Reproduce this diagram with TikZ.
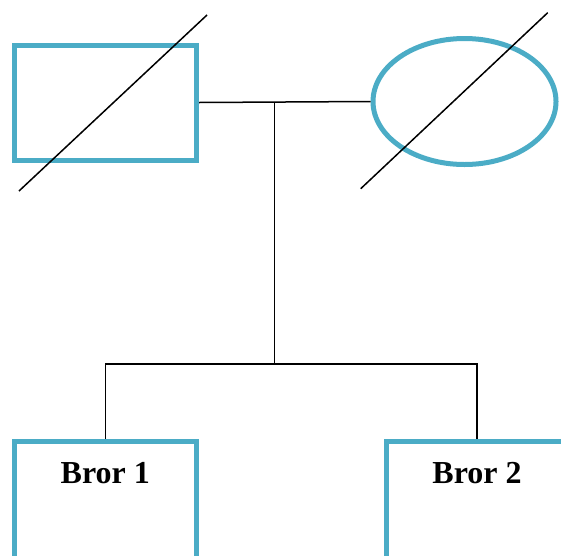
\documentclass[tikz,border=0pt]{standalone}
\usepackage{fontspec}
\setmainfont{Liberation Serif}
\usepackage{xcolor}
\usepackage{tikz}
\usetikzlibrary{shapes.geometric}
\definecolor{GenTeal}{HTML}{4BACC6}
\definecolor{GenLine}{HTML}{000000}

\tikzset{
  male/.style={draw=GenTeal,line width=5pt,rectangle,minimum width=182pt,minimum height=115pt,inner sep=0pt},
  female/.style={draw=GenTeal,line width=5pt,ellipse,minimum width=183pt,minimum height=126pt,inner sep=0pt},
  link/.style={GenLine,line width=1.5pt},
  dead/.style={GenLine,line width=1.5pt},
  kinlabel/.style={font=\fontsize{32}{36}\selectfont\bfseries,inner sep=0pt}
}

\begin{document}
\begin{tikzpicture}[x=1pt,y=-1pt]
\path[use as bounding box] (0,0) rectangle (561,555);
% parents
\node[male] (far) at (105.5,102.5) {};
\node[female] (mor) at (464.5,101.5) {};
% siblings (run off the page bottom)
\node[male,minimum height=130pt] (b1) at (105.25,506.5) {};
\node[male,minimum height=130pt] (b2) at (477,506.5) {};
\node[kinlabel,anchor=base] (t1) at ([yshift=-44.5pt]b1.north) {Bror 1};
\node[kinlabel,anchor=base] (t2) at ([yshift=-44.5pt]b2.north) {Bror 2};
% family lines
\coordinate (mid) at (274.5,102.5);
\coordinate (fork) at (274.5,364);
\draw[link] (far.east) -- (mor.west);
\draw[link] (mid) -- (fork);
\draw[link] (b1.north) |- (fork) -| (b2.north);
% deceased marks
\coordinate (d1a) at (19,191);
\coordinate (d1b) at (207,15);
\coordinate (d2a) at (360.7,188.7);
\coordinate (d2b) at (547.7,12.7);
\draw[dead] (d1a) -- (d1b);
\draw[dead] (d2a) -- (d2b);
\end{tikzpicture}
\end{document}
